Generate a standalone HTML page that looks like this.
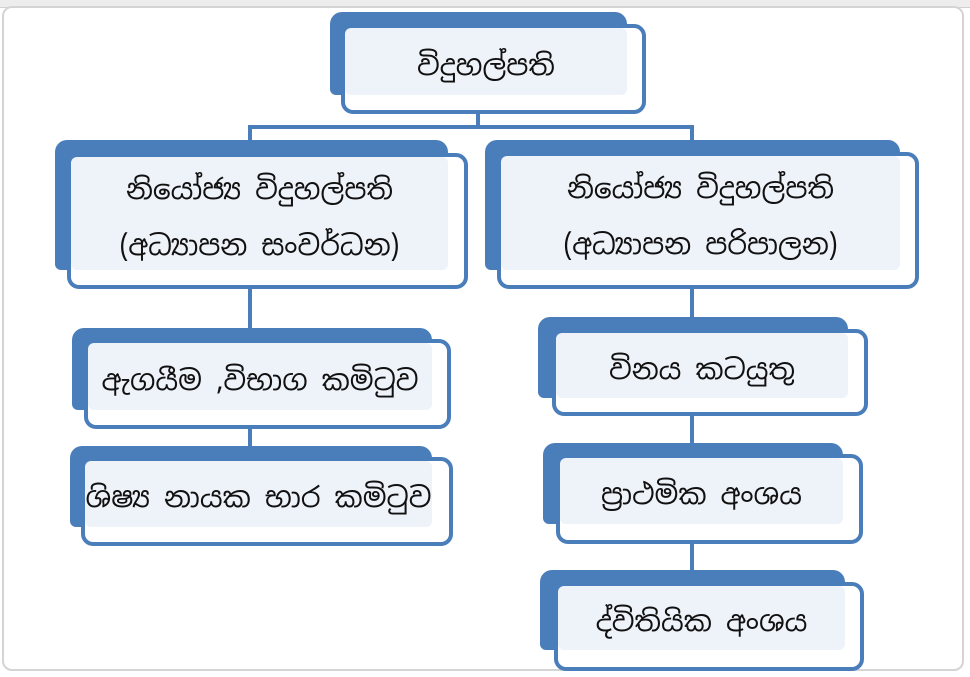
<!DOCTYPE html>
<html><head><meta charset="utf-8"><style>
body{margin:0;width:970px;height:677px;background:#fff;position:relative;overflow:hidden;font-family:"Iskoola Pota","Noto Sans Sinhala","Liberation Sans",sans-serif;}
.frame{position:absolute;left:2px;top:6px;width:962px;height:665px;border:2px solid #d4d4d4;border-radius:10px;box-sizing:border-box;}
.topbar{position:absolute;left:0;top:0;width:970px;height:7px;background:#ededed;border-bottom:1px solid #d0d0d0;}
.b{position:absolute;background:#4a7ebb;border-radius:12px 12px 6px 6px;}
.f{position:absolute;background:#fff;border:4px solid #4a7ebb;border-radius:12px;box-sizing:border-box;}
.i{position:absolute;background:#eef2f9;border-radius:6px;display:flex;align-items:center;justify-content:center;text-align:center;color:#111;font-size:28px;line-height:56px;box-sizing:border-box;padding-top:8px;}
.l{position:absolute;background:#4a7ebb;}
</style></head><body>
<div class="topbar"></div>
<div class="frame"></div>

<div class="l" style="left:476px;top:110px;width:4px;height:18px"></div>
<div class="l" style="left:248px;top:125px;width:446px;height:4px"></div>
<div class="l" style="left:248px;top:125px;width:4px;height:18px"></div>
<div class="l" style="left:690px;top:125px;width:4px;height:18px"></div>
<div class="l" style="left:248px;top:285px;width:4px;height:46px"></div>
<div class="l" style="left:248px;top:425px;width:4px;height:24px"></div>
<div class="l" style="left:690px;top:285px;width:4px;height:35px"></div>
<div class="l" style="left:690px;top:412px;width:4px;height:34px"></div>
<div class="l" style="left:690px;top:540px;width:4px;height:33px"></div>

<div class="b" style="left:330px;top:12px;width:297px;height:83px"></div>
<div class="f" style="left:341px;top:24px;width:305px;height:90px"></div>
<div class="i" style="left:345px;top:28px;width:282px;height:67px">විදුහල්පති</div>

<div class="b" style="left:55px;top:140px;width:393px;height:130px"></div>
<div class="f" style="left:67px;top:153px;width:401px;height:136px"></div>
<div class="i" style="left:71px;top:157px;width:377px;height:113px">නියෝජ්‍ය විදුහල්පති<br>(අධ්‍යාපන සංවර්ධන)</div>

<div class="b" style="left:485px;top:140px;width:415px;height:130px"></div>
<div class="f" style="left:497px;top:152px;width:422px;height:137px"></div>
<div class="i" style="left:501px;top:156px;width:399px;height:114px">නියෝජ්‍ය විදුහල්පති<br>(අධ්‍යාපන පරිපාලන)</div>

<div class="b" style="left:72px;top:328px;width:360px;height:82px"></div>
<div class="f" style="left:84px;top:339px;width:367px;height:90px"></div>
<div class="i" style="left:88px;top:343px;width:344px;height:67px">ඇගයීම ,විභාග කමිටුව</div>

<div class="b" style="left:70px;top:446px;width:362px;height:81px"></div>
<div class="f" style="left:81px;top:457px;width:372px;height:89px"></div>
<div class="i" style="left:85px;top:461px;width:347px;height:66px">ශිෂ්‍ය නායක භාර කමිටුව</div>

<div class="b" style="left:538px;top:317px;width:310px;height:81px"></div>
<div class="f" style="left:552px;top:329px;width:316px;height:87px"></div>
<div class="i" style="left:556px;top:333px;width:292px;height:65px">විනය කටයුතු</div>

<div class="b" style="left:543px;top:443px;width:300px;height:81px"></div>
<div class="f" style="left:556px;top:454px;width:307px;height:90px"></div>
<div class="i" style="left:560px;top:458px;width:283px;height:66px">ප්‍රාථමික අංශය</div>

<div class="b" style="left:540px;top:570px;width:305px;height:80px"></div>
<div class="f" style="left:554px;top:582px;width:310px;height:89px"></div>
<div class="i" style="left:558px;top:586px;width:287px;height:64px">ද්විතියික අංශය</div>
</body></html>
